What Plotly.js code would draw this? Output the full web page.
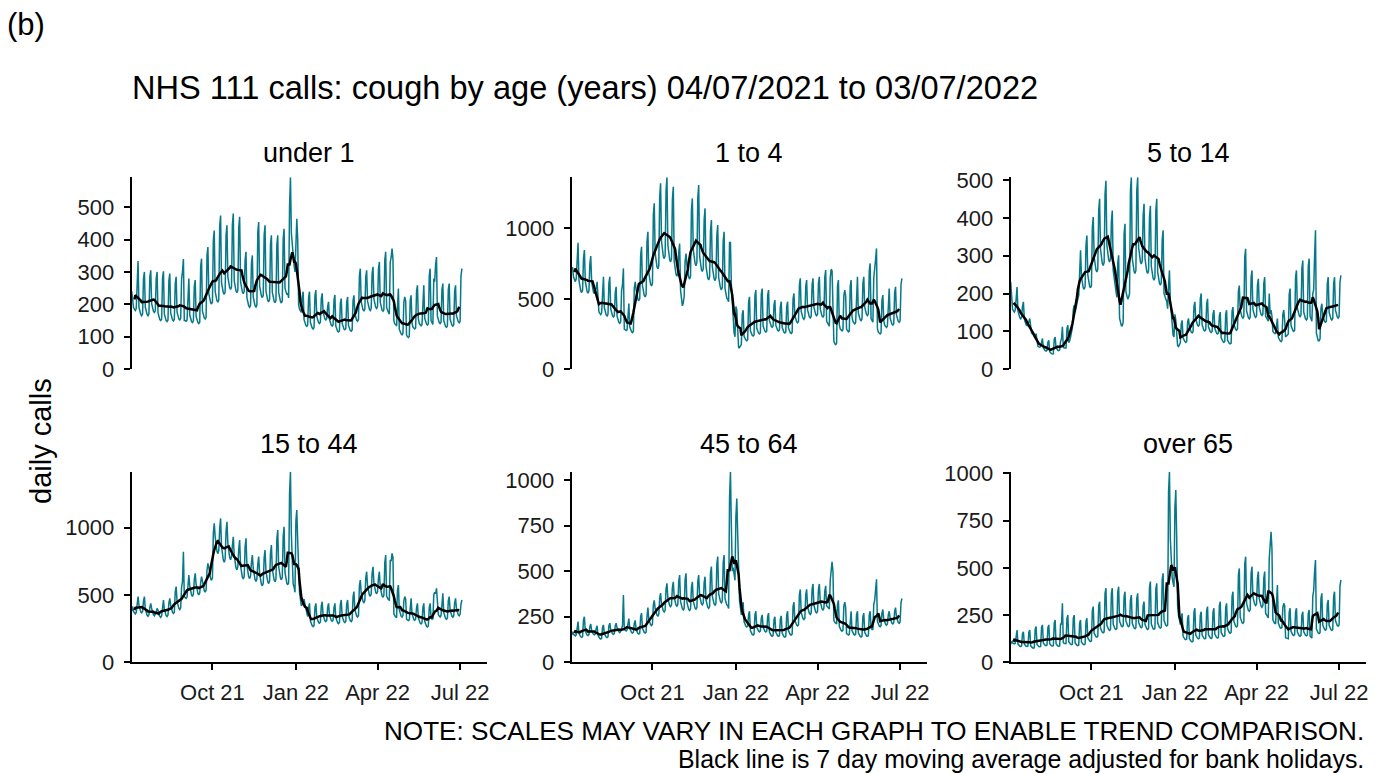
<!DOCTYPE html>
<html>
<head>
<meta charset="utf-8">
<script src="https://cdn.plot.ly/plotly-3.0.1.min.js"></script>
<style>
html,body{margin:0;padding:0;background:#fff;}
#chart{width:1381px;height:774px;}
</style>
</head>
<body>
<div id="chart"></div>
<script>
// Daily NHS 111 cough calls, 04/07/2021 (Sunday) to 03/07/2022, one value per day
const startDate = '2021-07-04';
const panelTitles = ['under 1', '1 to 4', '5 to 14', '15 to 44', '45 to 64', 'over 65'];
const yTickStep = [100, 500, 100, 500, 250, 250];
const xTickDates = ['2021-10-01', '2022-01-01', '2022-04-01', '2022-07-01'];
const xTickLabels = ['Oct 21', 'Jan 22', 'Apr 22', 'Jul 22'];
// England bank holidays in the period (used for the adjusted moving average)
const bankHolidays = ['2021-08-30', '2021-12-27', '2021-12-28', '2022-01-03', '2022-04-15',
                      '2022-04-18', '2022-05-02', '2022-06-02', '2022-06-03'];

const callsUnder1 = [
240,210,191,185,181,187,311, 334,191,174,169,165,171,279, 300,191,174,169,165,171,284, 305,202,184,178,175,180,279,
300,174,158,153,150,155,281, 302,170,155,150,147,152,274, 295,173,157,152,149,154,265, 285,176,160,155,152,157,279,
300,340,150,150,148,152,260, 280,167,152,147,144,149,256, 275,163,148,144,141,145,317, 341,179,163,158,155,160,351,
377,233,212,206,201,208,398, 428,240,218,211,207,214,441, 474,267,243,236,231,238,413, 444,285,259,251,246,254,446,
480,273,248,241,236,243,437, 470,270,245,238,233,240,337, 362,221,201,195,191,197,326, 351,222,202,196,192,198,422,
454,256,233,226,221,228,413, 444,241,219,212,208,215,384, 413,238,216,210,205,212,384, 413,237,215,209,204,211,403,
433,250,235,230,235,220,500, 592,420,380,330,320,300,420, 464,400,200,185,180,175,222, 239,153,139,135,132,136,222,
239,144,131,127,124,128,227, 244,163,148,144,141,145,218, 234,176,160,155,152,157,193, 208,154,140,136,133,137,213,
229,133,121,117,115,119,203, 218,141,128,124,122,125,207, 223,135,123,119,117,121,212, 228,172,156,151,148,153,288,
310,208,189,183,180,185,284, 305,210,191,185,181,187,294, 316,217,197,191,187,193,308, 331,207,188,182,179,184,337,
362,190,180,175,170,330,346, 372,340,150,140,138,133,232, 249,123,112,109,106,110,207, 223,210,105,100,98,102,212,
228,143,130,126,124,127,241, 259,155,141,137,134,138,241, 259,157,143,139,136,140,288, 310,150,140,138,280,270,322,
346,163,148,144,141,145,246, 264,150,136,132,129,133,246, 264,154,140,136,133,137,241, 259,165,150,146,143,147,288,
310];

const calls1to4 = [
720,720,655,635,622,642,835, 898,630,573,556,544,562,787, 846,625,568,551,540,557,747, 803,620,564,547,536,553,577,
620,449,408,396,388,400,610, 656,438,398,386,378,390,610, 656,429,390,378,371,382,544, 585,377,343,333,326,336,558,
600,716,285,280,275,280,434, 467,301,274,266,260,269,577, 620,563,512,497,486,502,809, 870,594,540,524,513,529,908,
976,684,622,603,591,610,1096, 1178,826,751,728,713,736,1228, 1320,909,826,801,785,809,1268, 1363,882,802,778,762,786,1205,
1296,765,695,674,660,681,830, 893,560,480,450,470,520,764, 822,741,674,654,640,661,1128, 1213,851,774,751,735,759,1216,
1308,803,730,708,694,715,1062, 1142,734,667,647,634,654,985, 1059,728,662,642,629,649,952, 1024,653,594,576,564,582,908,
976,573,521,505,495,480,900, 900,600,450,300,260,230,445, 420,300,150,155,165,175,390, 419,234,213,207,202,209,478,
514,273,248,241,236,243,523, 562,290,264,256,251,259,533, 573,306,278,270,264,272,523, 562,345,314,305,298,308,457,
491,313,285,276,271,279,445, 479,297,270,262,257,265,445, 479,293,266,258,253,261,500, 538,381,346,336,329,339,600,
645,410,373,362,354,366,589, 633,421,383,372,364,375,600, 645,440,400,388,380,392,610, 656,428,389,377,370,381,655,
704,340,330,320,306,650,710, 700,500,200,180,175,185,589, 633,316,287,278,273,281,523, 562,520,285,275,265,270,589,
633,373,339,329,322,332,610, 656,399,363,352,345,356,610, 656,441,401,389,381,393,698, 751,360,345,334,650,700,780,
858,289,263,255,250,258,489, 526,344,313,304,297,307,533, 573,363,330,320,313,323,544, 585,386,351,340,333,344,600,
645];

const calls5to14 = [
230,175,159,154,151,156,202, 217,154,140,136,133,137,166, 178,133,121,117,115,119,125, 134,106,96,93,91,94,87,
94,67,61,59,58,60,75, 81,56,51,49,48,50,71, 76,46,42,41,40,41,79, 85,57,52,50,49,51,74,
80,112,58,56,55,56,108, 116,70,75,85,95,110,157, 169,150,165,175,185,195,292, 314,244,222,215,211,218,328,
353,249,226,219,215,221,374, 402,297,270,262,257,265,419, 450,317,288,279,274,282,463, 498,328,298,289,283,292,390,
419,260,240,225,210,190,280, 301,135,120,115,115,125,357, 384,205,190,185,190,200,472, 507,293,266,258,253,261,472,
507,322,293,284,278,287,406, 437,293,266,258,253,261,402, 432,272,247,240,235,242,419, 450,257,234,227,222,229,341,
367,200,190,185,180,160,220, 261,180,150,100,90,85,145, 130,100,62,60,65,70,120, 129,83,75,73,71,74,125,
134,111,101,98,96,99,166, 178,132,120,116,114,118,186, 200,117,106,103,101,104,173, 186,112,102,99,97,100,145,
156,108,98,95,93,96,140, 151,83,75,73,71,74,145, 156,77,70,68,67,69,153, 164,119,108,105,103,106,206,
221,156,142,138,135,139,296, 318,154,140,136,133,137,243, 261,158,144,140,137,141,222, 239,164,149,145,142,146,226,
243,140,135,130,127,200,145, 156,140,100,96,94,94,125, 134,85,77,75,73,76,145, 156,130,85,88,90,93,198,
213,116,105,102,100,103,243, 261,161,146,142,139,143,267, 287,151,137,133,130,134,272, 292,140,133,127,200,210,300,
367,95,80,75,75,80,161, 173,143,130,126,124,127,226, 243,151,137,133,130,134,226, 243,156,142,138,135,139,231,
248];

const calls15to44 = [
380,416,378,367,359,370,454, 488,425,386,374,367,378,454, 488,396,360,349,342,353,407, 438,399,363,352,345,356,373,
401,387,352,341,334,345,431, 463,394,358,347,340,351,442, 475,419,381,370,362,373,523, 562,454,413,401,392,405,558,
600,822,490,480,475,485,603, 648,568,516,501,490,506,615, 661,580,527,511,501,516,591, 636,603,548,532,521,537,684,
735,705,641,622,609,628,960, 1032,934,849,824,807,832,994, 1069,860,782,759,743,766,971, 1044,882,802,778,762,786,868,
933,795,723,701,687,709,844, 908,717,652,632,619,639,857, 921,720,655,635,622,642,741, 797,696,633,614,601,620,730,
785,658,598,580,568,586,776, 834,678,616,598,585,604,810, 871,693,630,611,599,617,914, 983,710,645,626,613,632,937,
1007,666,606,588,576,590,1250, 1416,950,780,580,560,520,1052, 1131,900,600,520,470,420,430, 463,470,430,390,360,340,407,
438,307,279,271,265,273,407, 438,335,305,296,290,299,419, 450,351,319,309,303,313,407, 438,353,321,311,305,315,407,
438,332,302,293,287,296,431, 463,342,311,302,295,305,431, 463,351,319,309,303,313,488, 525,391,355,344,337,348,568,
611,514,467,453,444,458,626, 673,569,517,501,491,507,660, 710,590,536,520,509,525,626, 673,559,508,493,483,498,741,
797,490,475,465,462,760,752, 809,780,360,345,340,332,534, 574,389,354,343,336,347,454, 488,470,320,315,310,315,442,
475,361,328,318,312,321,407, 438,330,300,291,285,294,407, 438,304,276,268,262,270,407, 438,330,320,322,500,520,511,
549,391,355,344,337,348,476, 512,370,336,326,319,329,454, 488,388,353,342,335,346,442, 475,399,363,352,345,356,431,
463];

const calls45to64 = [
150,168,153,148,145,150,207, 223,158,144,140,137,141,233, 250,170,155,150,147,152,195, 210,175,159,154,151,156,186,
200,148,135,131,128,132,191, 205,157,143,139,136,140,200, 215,178,162,157,154,159,200, 215,189,172,167,163,169,186,
200,369,180,176,172,178,223, 240,185,168,163,160,165,214, 230,179,163,158,155,160,251, 270,186,169,164,161,166,251,
300,234,213,207,202,209,316, 340,294,267,259,254,262,353, 380,320,291,282,276,285,403, 433,353,321,311,305,315,411,
442,356,324,314,308,318,445, 479,333,303,294,288,297,454, 488,329,299,290,284,293,411, 442,337,306,297,291,300,445,
479,365,332,322,315,325,437, 470,343,312,303,296,306,488, 525,363,330,320,314,323,539, 580,377,343,333,326,336,548,
589,350,320,315,310,295,900, 1046,750,500,520,480,450,800, 899,700,420,340,300,260,307, 330,224,204,198,194,200,260,
280,174,158,153,150,155,260, 280,194,176,171,167,172,242, 260,193,175,170,166,172,251, 270,166,151,146,143,148,233,
250,165,150,146,143,147,237, 255,160,145,141,138,142,260, 280,173,157,152,149,154,307, 330,231,210,204,200,206,372,
400,272,247,240,235,242,372, 400,305,277,269,263,271,400, 430,313,285,276,271,279,400, 430,332,302,293,287,296,391,
420,310,305,300,292,450,513, 552,500,230,220,212,210,316, 340,197,179,174,170,176,307, 330,300,158,154,150,153,260,
280,174,158,153,150,155,260, 280,161,146,142,139,143,251, 270,164,149,145,142,146,260, 280,190,180,180,320,340,400,
455,225,205,199,195,201,270, 290,236,215,209,204,210,260, 280,243,221,214,210,217,279, 300,248,225,218,214,221,326,
350];

const callsOver65 = [
95,112,102,99,97,100,159, 171,97,88,85,84,86,151, 162,97,88,85,84,86,159, 171,87,79,77,75,77,176,
189,95,86,83,82,84,184, 198,102,93,90,88,91,184, 198,99,90,87,86,88,208, 224,98,89,86,85,87,205,
200,312,105,100,98,100,233, 250,109,99,96,94,97,233, 250,102,93,90,88,91,208, 224,108,98,95,93,96,217,
233,128,116,113,110,114,274, 295,154,140,136,133,137,299, 321,180,164,159,156,161,365, 392,196,178,173,169,174,365,
392,201,183,178,174,179,372, 400,218,198,192,188,194,348, 374,219,199,193,189,195,331, 356,206,187,181,178,183,339,
365,212,193,187,183,189,299, 321,201,183,178,174,179,397, 427,202,184,178,175,180,389, 418,209,190,184,181,186,438,
471,222,202,196,192,198,900, 1009,650,500,450,420,400,820, 912,650,300,250,220,200,241, 259,139,126,122,120,123,233,
250,125,114,111,108,112,266, 286,144,131,127,124,128,249, 268,144,131,127,124,128,274, 295,146,133,129,126,130,266,
286,149,135,131,128,132,299, 321,158,144,140,137,141,290, 312,178,162,157,154,159,348, 374,217,197,191,187,193,462,
497,239,217,210,206,213,520, 559,312,284,275,270,278,471, 506,348,316,307,300,310,446, 480,337,306,297,291,300,446,
480,260,250,245,235,550,643, 691,600,225,215,205,205,380, 409,208,189,183,180,185,290, 312,300,130,128,125,125,266,
286,164,149,145,142,146,266, 286,160,145,141,138,142,249, 268,162,147,143,140,144,258, 277,140,135,128,350,380,480,
541,176,160,155,152,157,339, 365,197,179,174,170,175,307, 330,196,178,173,169,174,348, 374,221,201,195,191,197,405,
436];

const panelSeries = [callsUnder1, calls1to4, calls5to14, calls15to44, calls45to64, callsOver65];

// ---- helpers ----
function dayList(n) {
  const t0 = Date.parse(startDate + 'T00:00:00Z');
  const out = [];
  for (let i = 0; i < n; i++) out.push(new Date(t0 + i * 86400000).toISOString().slice(0, 10));
  return out;
}
// centred 7-day moving average (full windows only); a bank holiday is
// replaced by the same weekday of the previous week before averaging
function adjustedMovingAverage(v, dates) {
  const bh = new Set(bankHolidays);
  const adj = v.slice();
  for (let i = 0; i < v.length; i++) {
    if (bh.has(dates[i])) {
      let j = i - 7;
      while (j >= 0 && bh.has(dates[j])) j -= 7;
      if (j >= 0) adj[i] = adj[j];
    }
  }
  const out = [];
  for (let i = 0; i < adj.length; i++) {
    if (i < 3 || i > adj.length - 4) { out.push(null); continue; }
    let s = 0;
    for (let j = i - 3; j <= i + 3; j++) s += adj[j];
    out.push(s / 7);
  }
  return out;
}

const W = 1381, H = 774;
const colPx = [[131.7, 486.7], [571.7, 926.7], [1010.7, 1365.7]];
const rowPx = [[177.3, 369.2], [471.7, 662.3]];
const fx = p => p / W;
const fy = p => 1 - p / H;
const FONT = '"Liberation Sans", Arial, Helvetica, sans-serif';
const teal = '#067888';

const traces = [];
const layout = {
  width: W, height: H,
  margin: {l: 0, r: 0, t: 0, b: 0, pad: 0},
  paper_bgcolor: '#ffffff', plot_bgcolor: '#ffffff',
  showlegend: false,
  font: {family: FONT, color: '#000'},
  title: {
    text: 'NHS 111 calls: cough by age (years) 04/07/2021 to 03/07/2022',
    font: {family: FONT, size: 32.6, color: '#000'},
    x: fx(132), xanchor: 'left', xref: 'paper',
    y: fy(88), yanchor: 'middle', yref: 'paper'
  },
  annotations: []
};

panelSeries.forEach((vals, i) => {
  const n = i + 1;
  const row = Math.floor(i / 3), col = i % 3;
  const xa = 'xaxis' + (n === 1 ? '' : n), ya = 'yaxis' + (n === 1 ? '' : n);
  const xr = 'x' + (n === 1 ? '' : n), yr = 'y' + (n === 1 ? '' : n);
  const dates = dayList(vals.length);
  traces.push({
    type: 'scatter', mode: 'lines', x: dates, y: vals, xaxis: xr, yaxis: yr,
    line: {color: teal, width: 1.5}, hoverinfo: 'skip'
  });
  traces.push({
    type: 'scatter', mode: 'lines', x: dates, y: adjustedMovingAverage(vals, dates), xaxis: xr, yaxis: yr,
    line: {color: '#000000', width: 2.5}, hoverinfo: 'skip', connectgaps: false
  });
  const bottom = row === 1;
  layout[xa] = {
    domain: [fx(colPx[col][0]), fx(colPx[col][1])],
    anchor: yr,
    type: 'date',
    range: ['2021-07-04', '2022-07-30 08:00'],
    showgrid: false, zeroline: false,
    showline: bottom, linecolor: '#000', linewidth: 2,
    ticks: bottom ? 'outside' : '', ticklen: 6, tickwidth: 2, tickcolor: '#000',
    tickmode: 'array', tickvals: xTickDates, ticktext: xTickLabels,
    showticklabels: bottom,
    ticklabelstandoff: 3,
    tickfont: {family: FONT, size: 22, color: '#1a1a1a'}
  };
  layout[ya] = {
    domain: [fy(rowPx[row][1]), fy(rowPx[row][0])],
    anchor: xr,
    range: [0, Math.max(...vals)],
    showgrid: false, zeroline: false,
    showline: true, linecolor: '#000', linewidth: 2,
    ticks: 'outside', ticklen: 6, tickwidth: 2, tickcolor: '#000',
    tick0: 0, dtick: yTickStep[i],
    ticklabelstandoff: 5,
    tickfont: {family: FONT, size: 22, color: '#1a1a1a'}
  };
  layout.annotations.push({
    text: panelTitles[i], xref: 'paper', yref: 'paper',
    x: fx((colPx[col][0] + colPx[col][1]) / 2), y: fy(row === 0 ? 153 : 444),
    xanchor: 'center', yanchor: 'middle', showarrow: false,
    font: {family: FONT, size: 27, color: '#000'}
  });
});

layout.annotations.push(
  {text: '(b)', xref: 'paper', yref: 'paper', x: fx(5), y: fy(25), xanchor: 'left', yanchor: 'middle',
   showarrow: false, font: {family: FONT, size: 31, color: '#000'}},
  {text: 'daily calls', xref: 'paper', yref: 'paper', x: fx(41), y: fy(441), xanchor: 'center', yanchor: 'middle',
   textangle: -90, showarrow: false, font: {family: FONT, size: 29, color: '#000'}},
  {text: 'NOTE: SCALES MAY VARY IN EACH GRAPH TO ENABLE TREND COMPARISON.', xref: 'paper', yref: 'paper',
   x: fx(1366), y: fy(731), xanchor: 'right', yanchor: 'middle', showarrow: false,
   font: {family: FONT, size: 26.1, color: '#000'}},
  {text: 'Black line is 7 day moving average adjusted for bank holidays.', xref: 'paper', yref: 'paper',
   x: fx(1366), y: fy(759), xanchor: 'right', yanchor: 'middle', showarrow: false,
   font: {family: FONT, size: 24.9, color: '#000'}}
);

Plotly.newPlot('chart', traces, layout, {staticPlot: true, displayModeBar: false});
</script>
</body>
</html>
